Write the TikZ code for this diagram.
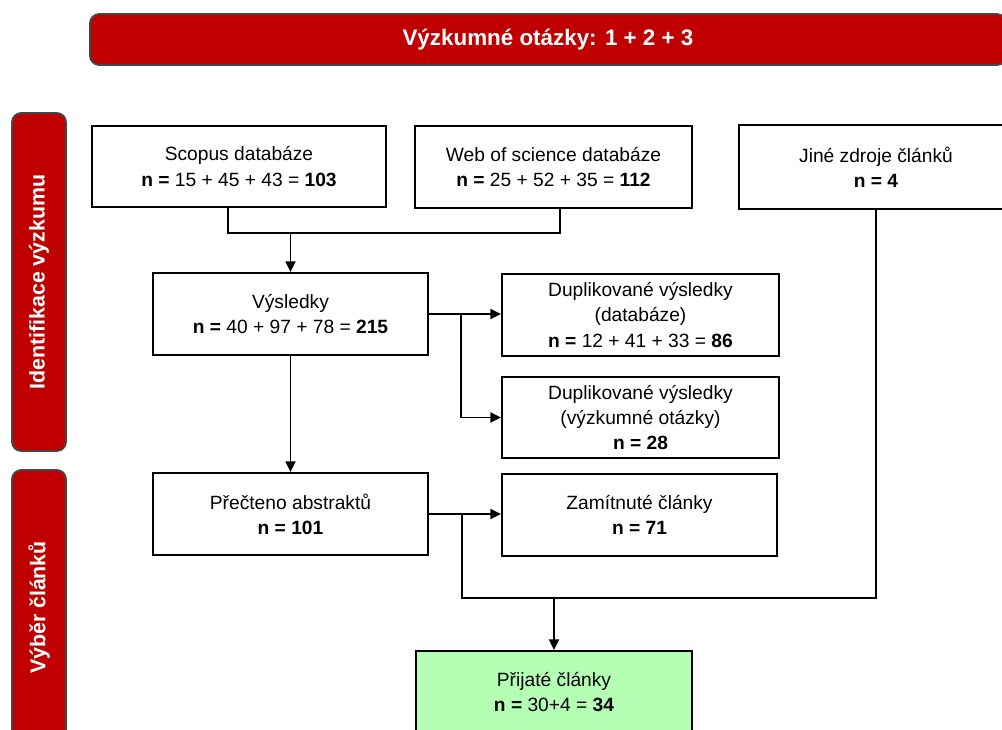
\documentclass[tikz,border=0pt]{standalone}
\usepackage{fontspec}
\setmainfont{Liberation Sans}
\usetikzlibrary{arrows.meta,calc}
\definecolor{bannerred}{RGB}{192,0,0}
\definecolor{okgreen}{RGB}{180,255,180}
\definecolor{rim}{RGB}{70,70,70}
\begin{document}
\begin{tikzpicture}[x=0.75pt,y=-0.75pt,
  box/.style={draw=black, line width=1.4pt, fill=white, align=center,
    font=\fontsize{14.4}{18.8}\selectfont, inner sep=0pt},
  redbar/.style={draw=rim, line width=1.4pt, fill=bannerred, rounded corners=7pt,
    text=white, inner sep=0pt},
  conn/.style={line width=1.4pt},
  arr/.style={conn, -{Triangle[length=8pt,width=7.5pt]}}
]
\clip (0,0) rectangle (1002,729);
\fill[white] (0,0) rectangle (1002,729);

% banner and side bars
\node[redbar, minimum width=687pt, minimum height=38.25pt,
  font=\bfseries\fontsize{16.8}{20}\selectfont] (banner) at (548,39.5) {Výzkumné otázky: 1 + 2 + 3};
\node[redbar, rotate=90, minimum width=253.5pt, minimum height=40.5pt,
  font=\bfseries\fontsize{16}{19}\selectfont] (ident) at (39,282) {Identifikace výzkumu};
\node[redbar, rotate=90, minimum width=206.25pt, minimum height=40.5pt,
  font=\bfseries\fontsize{16}{19}\selectfont] (vyber) at (39,607.5) {Výběr článků};

% boxes
\node[box, minimum width=220.5pt, minimum height=60.75pt] (scopus) at (239,166.5)
  {Scopus databáze\\{\bfseries n =} 15 + 45 + 43 = {\bfseries 103}};
\node[box, minimum width=207.75pt, minimum height=61.5pt] (wos) at (553.5,167)
  {Web of science databáze\\{\bfseries n =} 25 + 52 + 35 = {\bfseries 112}};
\node[box, minimum width=205.5pt, minimum height=63pt] (jine) at (876,167)
  {Jiné zdroje článků\\{\bfseries n = 4}};
\node[box, minimum width=206.25pt, minimum height=61.5pt] (vys) at (290.5,314)
  {Výsledky\\{\bfseries n =} 40 + 97 + 78 = {\bfseries 215}};
\node[box, minimum width=207.75pt, minimum height=61.5pt] (dup1) at (640.5,315)
  {Duplikované výsledky\\(databáze)\\{\bfseries n =} 12 + 41 + 33 = {\bfseries 86}};
\node[box, minimum width=207.75pt, minimum height=60.75pt] (dup2) at (640.5,417.5)
  {Duplikované výsledky\\(výzkumné otázky)\\{\bfseries n = 28}};
\node[box, minimum width=206.25pt, minimum height=61.5pt] (prec) at (290.5,514)
  {Přečteno abstraktů\\{\bfseries n = 101}};
\node[box, minimum width=206.25pt, minimum height=61.5pt] (zam) at (639.5,515)
  {Zamítnuté články\\{\bfseries n = 71}};
\node[box, fill=okgreen, minimum width=207pt, minimum height=61.5pt] (prij) at (554,692)
  {Přijaté články\\{\bfseries n =} 30+4 = {\bfseries 34}};

% connectors
\coordinate (jA) at (290.5,233);
\coordinate (jB) at (461,314);
\coordinate (jC) at (462,514);
\coordinate (jD) at (554,598);
\draw[conn] ([xshift=-8.25pt]scopus.south) |- (jA) -| ([xshift=4.9pt]wos.south);
\draw[arr] (jA) -- (vys.north);
\draw[arr] (vys.east) -- (vys.east -| dup1.west);
\draw[arr] (jB) |- (dup2.west);
\draw[arr] (vys.south) -- (prec.north);
\draw[arr] (prec.east) -- (prec.east -| zam.west);
\draw[conn] (jC) |- (jD) -| (jine.south);
\draw[arr] (jD) -- (prij.north);
\end{tikzpicture}
\end{document}
